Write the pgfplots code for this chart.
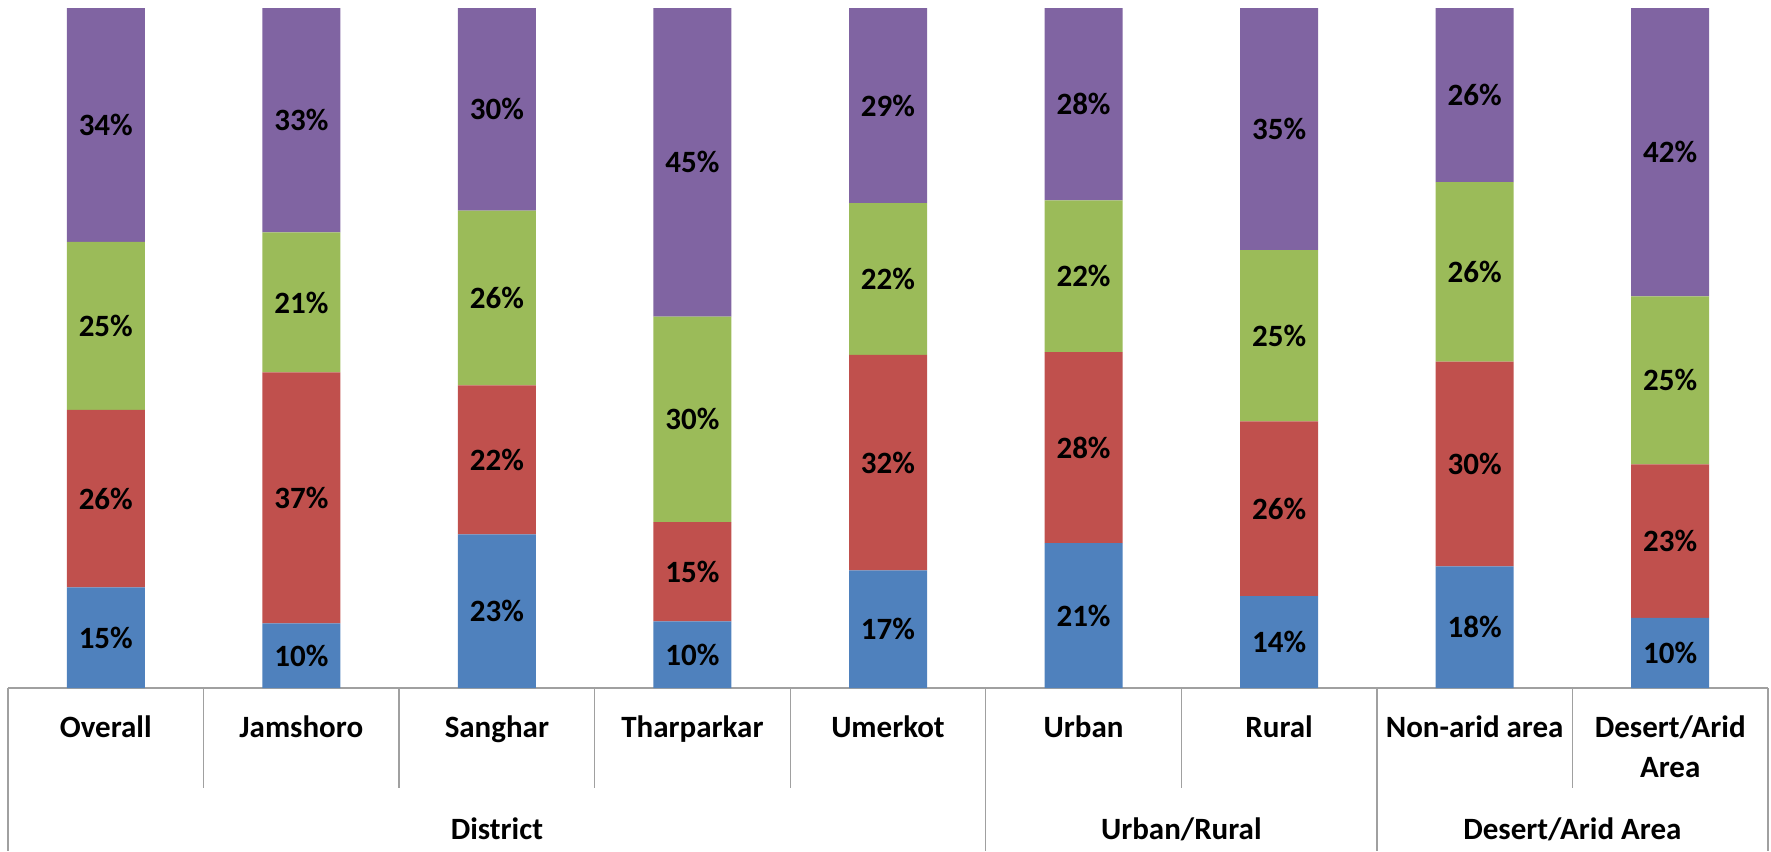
\documentclass[border=0pt]{standalone}
\usepackage{fontspec}
\setmainfont{Carlito}
\usepackage{pgfplots}
\usepackage{pgfplotstable}
\pgfplotsset{compat=1.18}
\definecolor{cblue}{HTML}{4F81BD}
\definecolor{cred}{HTML}{C0504D}
\definecolor{cgreen}{HTML}{9BBB59}
\definecolor{cpurple}{HTML}{8064A2}
\definecolor{cline}{HTML}{A0A0A0}
\pgfplotstableread{
x b bl r rl g gl p pl
0 14.8 15 26.1 26 24.7 25 34.4 34
1 9.5 10 36.9 37 20.6 21 33.0 33
2 22.6 23 21.9 22 25.7 26 29.8 30
3 9.8 10 14.6 15 30.2 30 45.4 45
4 17.3 17 31.7 32 22.3 22 28.7 29
5 21.3 21 28.1 28 22.3 22 28.3 28
6 13.5 14 25.7 26 25.2 25 35.6 35
7 17.9 18 30.1 30 26.4 26 25.6 26
8 10.3 10 22.6 23 24.7 25 42.4 42
}\data
\begin{document}
\begin{tikzpicture}[font=\fontsize{15.5}{19.5}\selectfont\bfseries]
\begin{axis}[
  at={(0,0)}, anchor=south west,
  width=880pt, height=340pt, scale only axis,
  xmin=-0.5, xmax=8.5, ymin=0, ymax=100,
  hide axis, clip=false,
  ybar stacked, bar width=39pt,
  nodes near coords={\pgfplotspointmeta\%},
  point meta=explicit symbolic,
  every node near coord/.append style={anchor=center, text=black,
    font=\fontsize{15.5}{19.5}\selectfont\bfseries},
]
\addplot[fill=cblue, draw=none] table[x=x,y=b,meta=bl]{\data};
\addplot[fill=cred, draw=none] table[x=x,y=r,meta=rl]{\data};
\addplot[fill=cgreen, draw=none] table[x=x,y=g,meta=gl]{\data};
\addplot[fill=cpurple, draw=none] table[x=x,y=p,meta=pl]{\data};
% category axis
\draw[cline, line width=0.7pt] (axis cs:-0.5,0) -- (axis cs:8.5,0);
\draw[cline, line width=0.7pt] (axis cs:-0.5,0) -- (axis cs:-0.5,-23.97);
\draw[cline, line width=0.7pt] (axis cs:4.5,0) -- (axis cs:4.5,-23.97);
\draw[cline, line width=0.7pt] (axis cs:6.5,0) -- (axis cs:6.5,-23.97);
\draw[cline, line width=0.7pt] (axis cs:8.5,0) -- (axis cs:8.5,-23.97);
\draw[cline, line width=0.7pt] (axis cs:0.5,0) -- (axis cs:0.5,-14.7);
\draw[cline, line width=0.7pt] (axis cs:1.5,0) -- (axis cs:1.5,-14.7);
\draw[cline, line width=0.7pt] (axis cs:2.5,0) -- (axis cs:2.5,-14.7);
\draw[cline, line width=0.7pt] (axis cs:3.5,0) -- (axis cs:3.5,-14.7);
\draw[cline, line width=0.7pt] (axis cs:5.5,0) -- (axis cs:5.5,-14.7);
\draw[cline, line width=0.7pt] (axis cs:7.5,0) -- (axis cs:7.5,-14.7);
\node[anchor=base] at (axis cs:0,-7.35) {Overall};
\node[anchor=base] at (axis cs:1,-7.35) {Jamshoro};
\node[anchor=base] at (axis cs:2,-7.35) {Sanghar};
\node[anchor=base] at (axis cs:3,-7.35) {Tharparkar};
\node[anchor=base] at (axis cs:4,-7.35) {Umerkot};
\node[anchor=base] at (axis cs:5,-7.35) {Urban};
\node[anchor=base] at (axis cs:6,-7.35) {Rural};
\node[anchor=base] at (axis cs:7,-7.35) {Non-arid area};
\node[anchor=base] at (axis cs:8,-7.35) {Desert/Arid};
\node[anchor=base] at (axis cs:8,-13.09) {Area};
\node[anchor=base] at (axis cs:2,-22.35) {District};
\node[anchor=base] at (axis cs:5.5,-22.35) {Urban/Rural};
\node[anchor=base] at (axis cs:7.5,-22.35) {Desert/Arid Area};
\end{axis}
\path (-4pt,-81.5pt) rectangle (881.5pt,344pt);
\end{tikzpicture}
\end{document}
